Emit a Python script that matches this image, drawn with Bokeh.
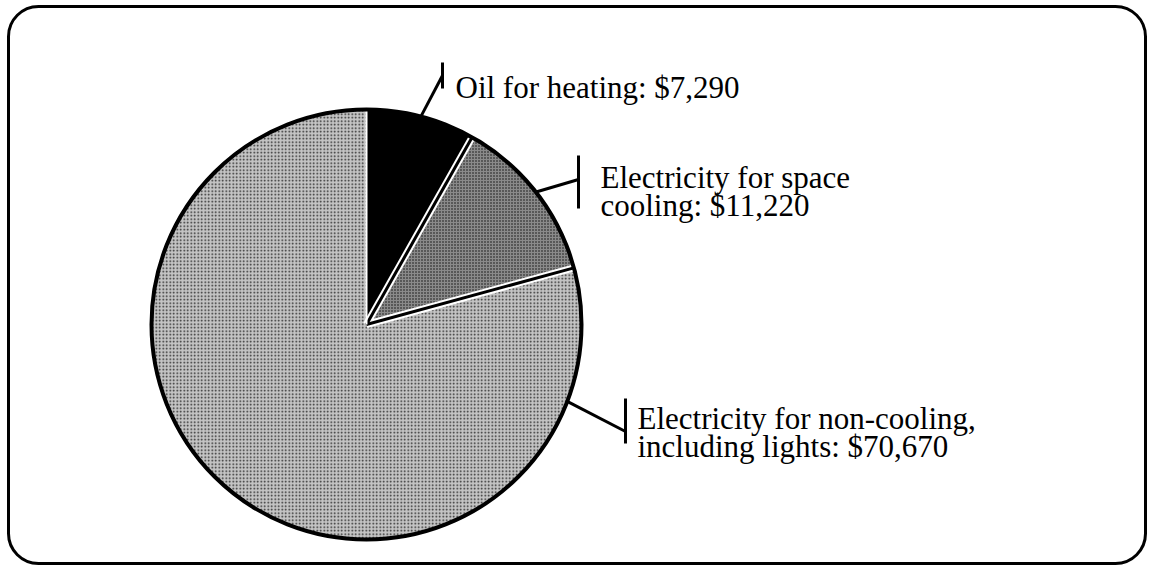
import numpy as np
from bokeh.plotting import figure
from bokeh.models import Range1d, BoxAnnotation
from bokeh.core.properties import value
from bokeh.embed import file_html
from bokeh.resources import INLINE

# ---------------- data ----------------
categories = ["Oil for heating",
              "Electricity for space cooling",
              "Electricity for non-cooling, including lights"]
costs = [7290, 11220, 70670]
label_lines = [["Oil for heating:  $7,290"],
               ["Electricity for space", "cooling:  $11,220"],
               ["Electricity for non-cooling,", "including lights:  $70,670"]]

# ---------------- figure ----------------
W, H = 1148, 566
p = figure(width=W, height=H, x_range=Range1d(0, W), y_range=Range1d(-H, 0),
           output_backend="svg", toolbar_location=None, min_border=0)
p.axis.visible = False
p.grid.visible = False
p.outline_line_color = None
p.background_fill_color = "white"
p.border_fill_color = "white"

# rounded frame
p.add_layout(BoxAnnotation(left=8, right=1145, top=-6, bottom=-563,
                           fill_alpha=0, line_color="black", line_alpha=1.0,
                           line_width=3, border_radius=30))

# ---------------- pie ----------------
cx, cy, r = 366, -324, 215
fr = np.array(costs, dtype=float) / sum(costs)
cum = np.concatenate([[0.0], np.cumsum(fr)]) * 2 * np.pi
start = np.pi / 2 - cum[1:]
end = np.pi / 2 - cum[:-1]
mid = (start + end) / 2

# oil: solid black
p.wedge(x=cx, y=cy, radius=r, start_angle=start[0], end_angle=end[0],
        fill_color="black", line_color=None)
# cooling: dark halftone
p.wedge(x=cx, y=cy, radius=r, start_angle=start[1], end_angle=end[1],
        fill_color="#8a8a8a", line_color=None,
        hatch_pattern="dot", hatch_color="black", hatch_scale=3, hatch_weight=2, hatch_alpha=0.9)
# non-cooling: light halftone
p.wedge(x=cx, y=cy, radius=r, start_angle=start[2], end_angle=end[2],
        fill_color="#c4c4c4", line_color=None,
        hatch_pattern="dot", hatch_color="black", hatch_scale=3.5, hatch_weight=2, hatch_alpha=0.8)

# slice boundaries (white halo + black line)
bx = cx + r * np.cos(start[:2])
by = cy + r * np.sin(start[:2])
p.segment(x0=cx, y0=cy, x1=bx, y1=by, line_color="white", line_width=7)
p.segment(x0=cx, y0=cy, x1=bx, y1=by, line_color="black", line_width=3)
p.segment(x0=cx, y0=cy, x1=cx, y1=cy + r, line_color="white", line_width=2)

# outline
p.circle(x=cx, y=cy, radius=r, fill_color=None, line_color="black", line_width=4)

# ---------------- labels ----------------
anchor_ang = [mid[0], mid[1], np.deg2rad(-21)]
bar_x = [442, 578, 625]
bar_y = [(-62, -88), (-155, -208), (-398, -443)]
leader_end_y = [-75, -179, -431]
text_x = [455, 600, 637]
text_y0 = [-87, -177, -418]
line_step = 28

for i in range(3):
    ax = cx + (r + 1) * np.cos(anchor_ang[i])
    ay = cy + (r + 1) * np.sin(anchor_ang[i])
    p.segment(x0=ax, y0=ay, x1=bar_x[i], y1=leader_end_y[i], line_color="black", line_width=3)
    p.segment(x0=bar_x[i], y0=bar_y[i][0], x1=bar_x[i], y1=bar_y[i][1], line_color="black", line_width=3)
    for j, txt in enumerate(label_lines[i]):
        p.text(x=text_x[i], y=text_y0[i] - j * line_step, text=[txt],
               text_font=value("Liberation Serif"), text_font_size="31px",
               text_color="black", text_baseline="alphabetic", text_align="left")

open("out.html", "w").write(file_html(p, INLINE))
